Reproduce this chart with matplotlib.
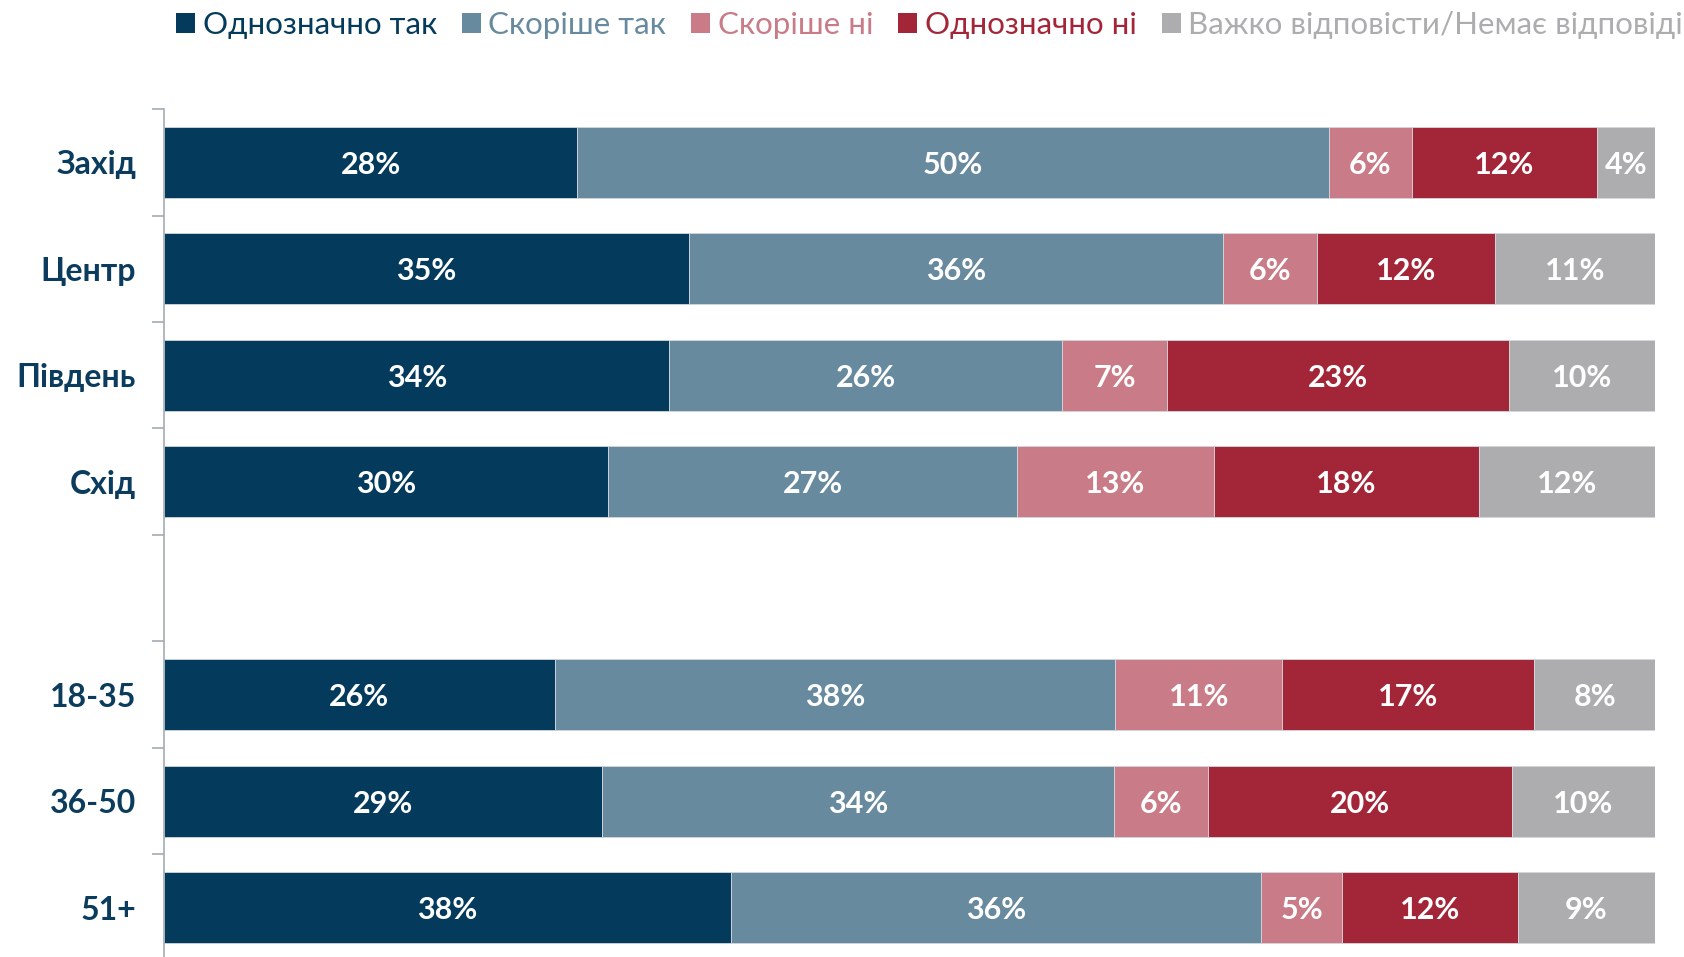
import numpy as np
import matplotlib
matplotlib.use("Agg")
import matplotlib.pyplot as plt
from matplotlib.patches import Patch

plt.rcParams['font.family'] = ['Lato', 'DejaVu Sans']

# Categories: regions and age groups, separated by an empty row
regions = ['Захід', 'Центр', 'Південь', 'Схід']
ages = ['18-35', '36-50', '51+']

series = ['Однозначно так', 'Скоріше так', 'Скоріше ні', 'Однозначно ні',
          'Важко відповісти/Немає відповіді']
colors = ['#043a5b', '#678a9e', '#c97c87', '#a32638', '#adadaf']

# share of answers, % (rows in order: regions, then ages)
definitely_yes = [27.7, 35.2, 33.9, 29.8, 26.2, 29.4, 38.0]
rather_yes = [50.4, 35.8, 26.3, 27.4, 37.6, 34.3, 35.6]
rather_no = [5.6, 6.3, 7.1, 13.2, 11.2, 6.3, 5.4]
definitely_no = [12.4, 12.0, 22.9, 17.8, 16.9, 20.4, 11.8]
hard_to_say = [3.9, 10.7, 9.8, 11.8, 8.1, 9.6, 9.2]

values = [definitely_yes, rather_yes, rather_no, definitely_no, hard_to_say]
labels = regions + ages
ypos = np.concatenate([np.arange(len(regions)), len(regions) + 1 + np.arange(len(ages))])
n_rows = len(regions) + 1 + len(ages)

fig = plt.figure(figsize=(16.84, 9.57), dpi=100)
ax = fig.add_axes([0.0974, -0.004, 0.8854, 0.890])

left = np.zeros(len(labels))
for name, vals, col in zip(series, values, colors):
    vals = np.array(vals)
    ax.barh(ypos, vals, left=left, height=0.667, color=col,
            edgecolor='#d3d7dc', linewidth=0.6, label=name)
    for y, l, v in zip(ypos, left, vals):
        ax.text(l + v / 2, y, f"{v:.0f}%", ha='center', va='center_baseline',
                color='white', fontsize=22, fontweight='bold')
    left += vals

ax.set_xlim(0, 100)
ax.set_ylim(n_rows - 0.5, -0.5)
ax.set_yticks(ypos)
ax.set_yticklabels(labels, fontsize=23, fontweight='bold', color='#0b3c5d')
ax.set_yticks(np.arange(n_rows + 1) - 0.5, minor=True)
ax.tick_params(axis='y', which='major', length=0, pad=20)
ax.tick_params(axis='y', which='minor', length=9, width=1.2, color='#a3abb3')
ax.set_xticks([])
for s in ['top', 'right', 'bottom']:
    ax.spines[s].set_visible(False)
ax.spines['left'].set_color('#a3abb3')
ax.spines['left'].set_linewidth(1.2)

handles = [Patch(facecolor=c, edgecolor='none') for c in colors]
leg = fig.legend(handles, series, loc='center', bbox_to_anchor=(0.552, 0.974),
                 ncol=5, frameon=False, labelcolor=colors, fontsize=22.5,
                 handlelength=0.6, handleheight=0.6, handletextpad=0.25,
                 columnspacing=0.8)

fig.savefig('out.png', dpi=100)
